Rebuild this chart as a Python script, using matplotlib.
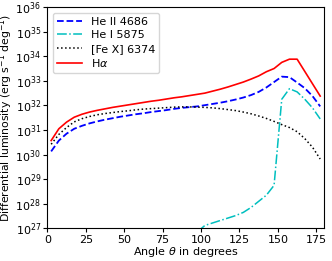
import numpy as np
import matplotlib
matplotlib.use("Agg")
import matplotlib.pyplot as plt
from matplotlib.ticker import NullLocator, LogLocator

angles = [2.5 + 5 * i for i in range(36)]

log_heii = [30.13, 30.57, 30.85, 31.05, 31.17, 31.27, 31.35, 31.42, 31.48, 31.54,
            31.59, 31.64, 31.68, 31.73, 31.77, 31.81, 31.86, 31.90, 31.93, 31.96,
            32.01, 32.06, 32.11, 32.17, 32.24, 32.32, 32.42, 32.55, 32.73, 32.95,
            33.17, 33.15, 32.93, 32.70, 32.38, 31.96]

log_hei = [None] * 19 + [26.85, 27.12, 27.22, 27.32, 27.42, 27.52, 27.65, 27.85,
                         28.10, 28.35, 28.75, 32.25, 32.68, 32.55, 32.25, 31.90, 31.45]

log_fex = [30.42, 30.82, 31.10, 31.33, 31.46, 31.55, 31.62, 31.67, 31.71, 31.75,
           31.78, 31.82, 31.85, 31.87, 31.89, 31.91, 31.93, 31.94, 31.94, 31.93,
           31.92, 31.90, 31.87, 31.83, 31.79, 31.73, 31.66, 31.57, 31.47, 31.35,
           31.22, 31.10, 30.93, 30.65, 30.30, 29.82]

log_halpha = [30.57, 31.05, 31.32, 31.52, 31.64, 31.73, 31.80, 31.86, 31.92, 31.97,
              32.02, 32.07, 32.12, 32.17, 32.21, 32.26, 32.31, 32.35, 32.40, 32.45,
              32.50, 32.58, 32.66, 32.75, 32.85, 32.95, 33.07, 33.20, 33.37, 33.50,
              33.75, 33.88, 33.88, 33.38, 32.88, 32.38]

labels = ["He II 4686", "He I 5875", "[Fe X] 6374", r"H$\alpha$"]

def to_lin(vals):
    return np.array([np.nan if v is None else 10.0 ** v for v in vals])

fig = plt.figure(figsize=(3.32, 2.61), dpi=100)
ax = fig.add_axes([0.1425, 0.125, 0.8335, 0.848])

ax.plot(angles, to_lin(log_heii), color="b", ls="--", lw=1.3, label=labels[0])
ax.plot(angles, to_lin(log_hei), color="c", ls="-.", lw=1.1, label=labels[1])
ax.plot(angles, to_lin(log_fex), color="k", ls=":", lw=1.1, label=labels[2])
ax.plot(angles, to_lin(log_halpha), color="r", ls="-", lw=1.2, label=labels[3])

ax.set_yscale("log")
ax.set_ylim(1e27, 1e36)
ax.set_xlim(0, 180)
ax.yaxis.set_major_locator(LogLocator(base=10, numticks=20))
ax.yaxis.set_minor_locator(NullLocator())
ax.set_xticks([0, 25, 50, 75, 100, 125, 150, 175])
ax.tick_params(labelsize=8, length=3, pad=1.5)

ax.set_xlabel(r"Angle $\theta$ in degrees", fontsize=8, labelpad=0.5)
ax.set_ylabel(r"Differential luminosity (erg s$^{-1}$ deg$^{-1}$)", fontsize=7.8, labelpad=0)

ax.legend(loc="upper left", fontsize=8, handlelength=2.2, borderpad=0.4,
          labelspacing=0.3, handletextpad=0.8)

fig.savefig("out.png", dpi=100)
